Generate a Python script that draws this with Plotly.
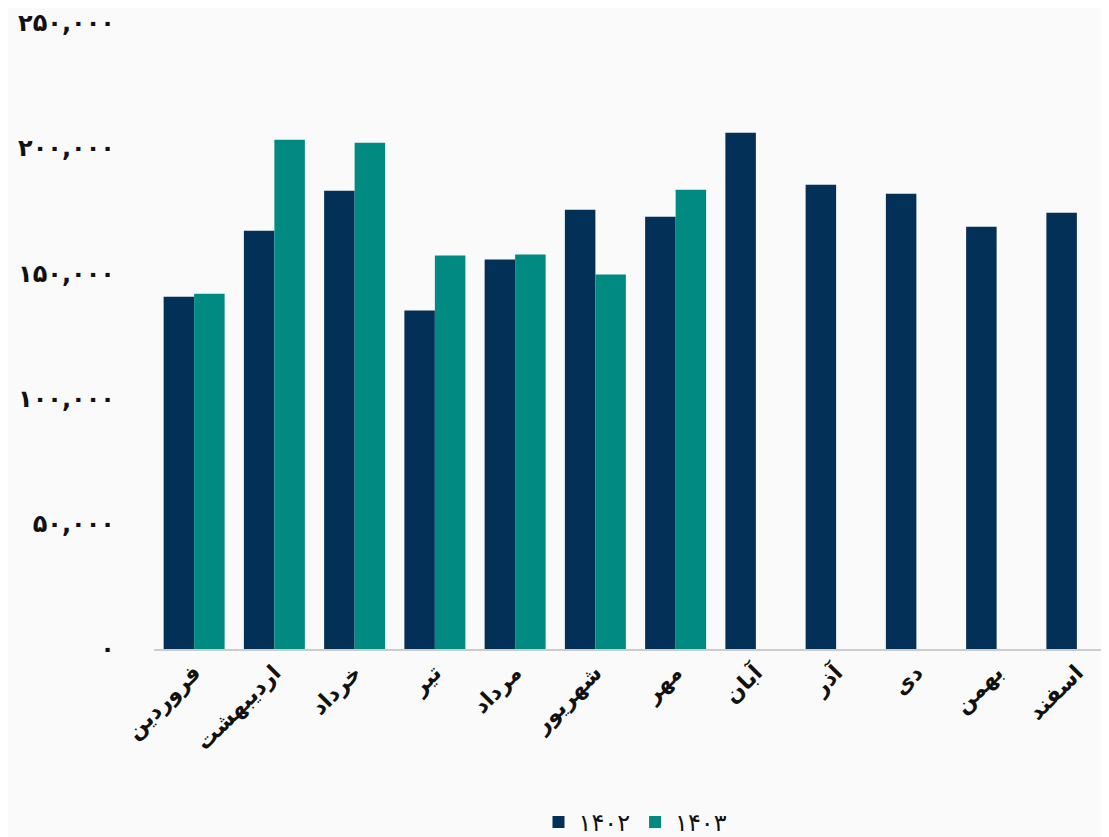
import plotly.graph_objects as go

months = ["فروردین", "اردیبهشت", "خرداد", "تیر", "مرداد", "شهریور",
          "مهر", "آبان", "آذر", "دی", "بهمن", "اسفند"]
y1402 = [140600, 166900, 182900, 135100, 155400, 175300,
         172500, 206000, 185300, 181700, 168500, 174100]
y1403 = [141800, 203200, 202000, 157000, 157400, 149400, 183300,
         None, None, None, None, None]
tick_vals = [0, 50000, 100000, 150000, 200000, 250000]
tick_text = ["۰", "۵۰,۰۰۰", "۱۰۰,۰۰۰", "۱۵۰,۰۰۰", "۲۰۰,۰۰۰", "۲۵۰,۰۰۰"]

fig = go.Figure()
fig.add_bar(x=months, y=y1402, name="۱۴۰۲", marker_color="#033056", marker_line_width=0)
fig.add_bar(x=months, y=y1403, name="۱۴۰۳", marker_color="#008a82", marker_line_width=0)

fig.update_layout(
    width=1109, height=837,
    paper_bgcolor="#fafafa", plot_bgcolor="#fafafa",
    barmode="group", bargap=0.24, bargroupgap=0,
    font=dict(family="DejaVu Sans", size=20, color="#111", weight="bold"),
    margin=dict(l=146, r=0, t=12, b=162),
    legend=dict(orientation="h", x=0.5, xanchor="center", y=-0.24, yanchor="top",
                font=dict(size=24, weight="normal")),
)
fig.update_xaxes(tickangle=-45, showline=True, linecolor="#cccccc", linewidth=2,
                 automargin=False, tickfont=dict(size=22, color="#111", weight="bold"))
fig.update_yaxes(range=[0, 251000], tickvals=tick_vals, ticktext=tick_text,
                 showgrid=False, zeroline=False, ticks="", ticklabelstandoff=38,
                 automargin=False, tickfont=dict(size=24, color="#111", weight="bold"))

fig.write_html("out.html")
